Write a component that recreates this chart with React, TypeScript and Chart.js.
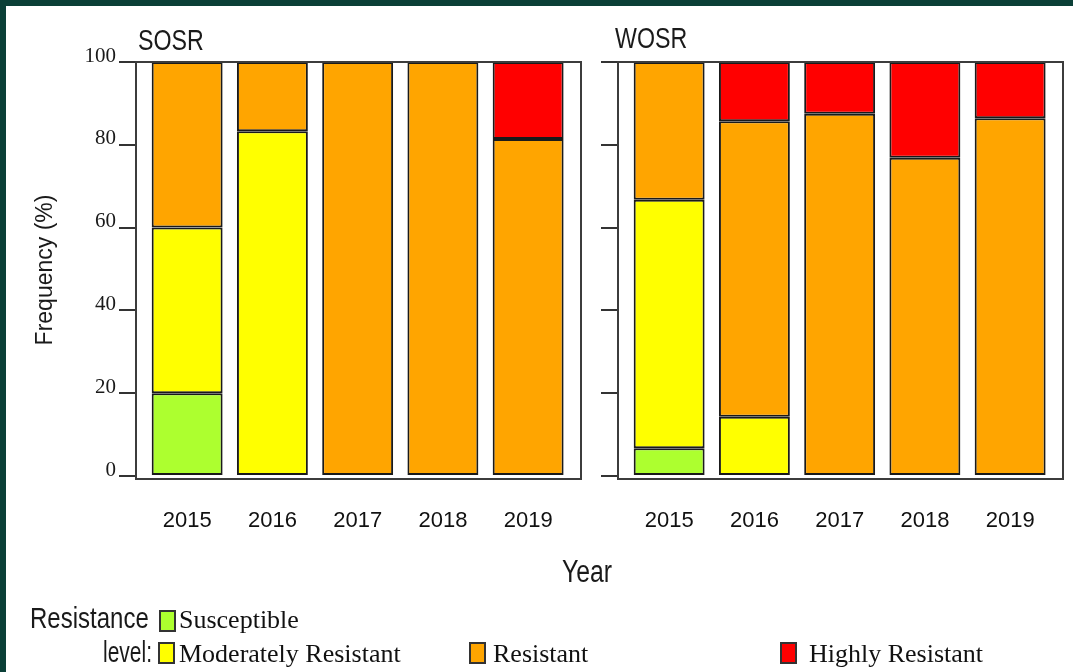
import React, { useEffect, useRef } from 'react';
import { Chart, registerables } from 'chart.js';

Chart.register(...registerables);

const years = ['2015', '2016', '2017', '2018', '2019'];
const levels = ['Susceptible', 'Moderately Resistant', 'Resistant', 'Highly Resistant'];
const levelColors = ['#adff2f', '#ffff00', '#ffa500', '#ff0000'];

const sosrSusceptible = [20, 0, 0, 0, 0];
const sosrModerate = [40, 83.3, 0, 0, 0];
const sosrResistant = [40, 16.7, 100, 100, 81.4];
const sosrHighly = [0, 0, 0, 0, 18.6];

const wosrSusceptible = [6.7, 0, 0, 0, 0];
const wosrModerate = [60, 14.3, 0, 0, 0];
const wosrResistant = [33.3, 71.4, 87.5, 76.9, 86.4];
const wosrHighly = [0, 14.3, 12.5, 23.1, 13.6];

const yMin = 0;
const yMax = 100;
const yStep = 20;

const W = 1073;
const H = 672;
const FRAME = '#0b3f37';
const SANS = "'Liberation Sans', Arial, sans-serif";
const SERIF = "'Liberation Serif', 'Times New Roman', serif";

function buildDatasets(series: number[][]) {
  return series.map((vals, k) => ({
    label: levels[k],
    data: vals.map((v, i) => ({ x: i, y: v === 0 ? null : v })),
    backgroundColor: levelColors[k],
    borderColor: '#1a1a1a',
    borderWidth: 2,
    borderSkipped: false as const,
    barPercentage: 0.832,
    categoryPercentage: 1,
  }));
}

// draw horizontally condensed text (emulates a narrow sans face)
function narrowText(ctx: CanvasRenderingContext2D, text: string, x: number, y: number, size: number, align: CanvasTextAlign, sx = 0.8) {
  ctx.save();
  ctx.translate(x, y);
  ctx.scale(sx, 1);
  ctx.font = `${size}px ${SANS}`;
  ctx.textAlign = align;
  ctx.textBaseline = 'alphabetic';
  ctx.fillText(text, 0, 0);
  ctx.restore();
}

const boxPlugin = {
  id: 'panelBox',
  afterDatasetsDraw(chart: any) {
    const { ctx, chartArea } = chart;
    ctx.save();
    ctx.strokeStyle = '#3c3c3c';
    ctx.lineWidth = 2;
    ctx.strokeRect(chartArea.left, chartArea.top, chartArea.right - chartArea.left, chartArea.bottom + 3 - chartArea.top);
    ctx.restore();
  },
};

function makeTextPlugin(title: string, titleX: number, titleY: number, withExtras: boolean) {
  return {
    id: 'panelText',
    afterDraw(chart: any) {
      const ctx = chart.ctx as CanvasRenderingContext2D;
      ctx.save();
      ctx.fillStyle = '#1a1a1a';
      narrowText(ctx, title, titleX, titleY, 29, 'left');
      if (withExtras) {
        // y axis title
        ctx.save();
        ctx.translate(46, 270);
        ctx.rotate(-Math.PI / 2);
        ctx.textAlign = 'center';
        ctx.textBaseline = 'middle';
        ctx.font = `23px ${SANS}`;
        ctx.fillText('Frequency (%)', 0, 0);
        ctx.restore();
        // x axis title
        narrowText(ctx, 'Year', 587, 582, 31, 'center');
        // legend
        narrowText(ctx, 'Resistance', 30, 628, 30, 'left');
        narrowText(ctx, 'level:', 152, 662, 30, 'right', 0.7);
        const items = [
          { bx: 160, by: 611, tx: 179, ty: 628 },
          { bx: 159, by: 643, tx: 179, ty: 662 },
          { bx: 470, by: 643, tx: 493, ty: 662 },
          { bx: 781, by: 643, tx: 809, ty: 662 },
        ];
        ctx.font = `26px ${SERIF}`;
        ctx.textAlign = 'left';
        ctx.textBaseline = 'alphabetic';
        items.forEach((it, k) => {
          ctx.fillStyle = levelColors[k];
          ctx.fillRect(it.bx, it.by, 15, 20);
          ctx.strokeStyle = '#333';
          ctx.lineWidth = 2;
          ctx.strokeRect(it.bx, it.by, 15, 20);
          ctx.fillStyle = '#111';
          ctx.fillText(levels[k], it.tx, it.ty);
        });
      }
      ctx.restore();
    },
  };
}

function makeConfig(series: number[][], showYLabels: boolean, areaLeft: number, areaRight: number, title: string, titleX: number, titleY: number, extras: boolean): any {
  const yAxisWidth = 60;
  const xAxisHeight = 60;
  return {
    type: 'bar',
    data: { datasets: buildDatasets(series) },
    options: {
      responsive: false,
      animation: false,
      events: [],
      layout: {
        padding: {
          left: areaLeft - yAxisWidth,
          right: W - areaRight,
          top: 62,
          bottom: H - 476 - xAxisHeight,
        },
      },
      plugins: { legend: { display: false }, tooltip: { enabled: false }, title: { display: false } },
      scales: {
        x: {
          type: 'linear',
          stacked: true,
          offset: false,
          min: -0.6,
          max: 4.62,
          afterBuildTicks: (s: any) => {
            s.ticks = years.map((_, i) => ({ value: i }));
          },
          afterFit: (s: any) => {
            s.height = xAxisHeight;
          },
          grid: { display: false, drawTicks: false },
          border: { display: false },
          ticks: {
            autoSkip: false,
            maxRotation: 0,
            padding: 32,
            color: '#111',
            font: { family: SANS, size: 22 },
            callback: (v: number) => years[v] ?? '',
          },
        },
        y: {
          stacked: true,
          min: yMin,
          max: yMax,
          afterFit: (s: any) => {
            s.width = yAxisWidth;
          },
          grid: {
            drawOnChartArea: false,
            drawTicks: true,
            tickLength: 17,
            color: '#333',
            lineWidth: 2,
          },
          border: { display: false },
          ticks: {
            display: showYLabels,
            stepSize: yStep,
            padding: 3,
            labelOffset: -6,
            color: '#1a1a1a',
            font: { family: SERIF, size: 21 },
          },
        },
      },
    },
    plugins: [boxPlugin, makeTextPlugin(title, titleX, titleY, extras)],
  };
}

export default function App() {
  const ref1 = useRef<HTMLCanvasElement>(null);
  const ref2 = useRef<HTMLCanvasElement>(null);

  useEffect(() => {
    const c1 = new Chart(
      ref1.current!,
      makeConfig([sosrSusceptible, sosrModerate, sosrResistant, sosrHighly], true, 136, 581, 'SOSR', 138, 50, true)
    );
    const c2 = new Chart(
      ref2.current!,
      makeConfig([wosrSusceptible, wosrModerate, wosrResistant, wosrHighly], false, 618, 1063, 'WOSR', 615, 48, false)
    );
    return () => {
      c1.destroy();
      c2.destroy();
    };
  }, []);

  const abs: React.CSSProperties = { position: 'absolute', left: 0, top: 0 };
  return (
    <div style={{ position: 'fixed', left: 0, top: 0, width: W, height: H, background: '#fff', overflow: 'hidden' }}>
      <div style={{ position: 'absolute', left: 0, top: 0, width: W, height: 6, background: FRAME }} />
      <div style={{ position: 'absolute', left: 0, top: 0, width: 6, height: H, background: FRAME }} />
      <canvas ref={ref1} width={W} height={H} style={abs} />
      <canvas ref={ref2} width={W} height={H} style={abs} />
    </div>
  );
}
